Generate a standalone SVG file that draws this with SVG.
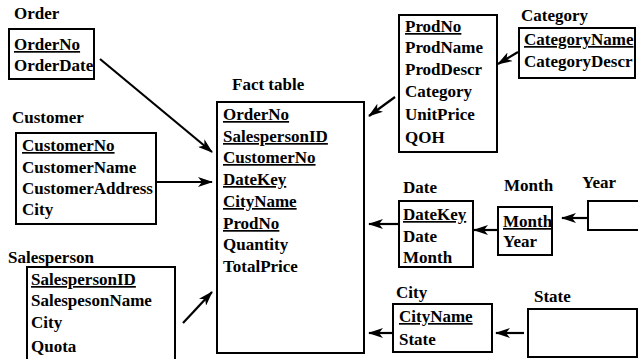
<svg xmlns="http://www.w3.org/2000/svg" width="638" height="359" viewBox="0 0 638 359">
<defs>
<style>
text{font-family:"Liberation Serif","Times New Roman",serif;font-size:17px;font-weight:bold;fill:#000}
.k{text-decoration:underline}
.b{fill:#fff;stroke:#000;stroke-width:2}
.c line{stroke:#000;stroke-width:2.2}
</style>
<marker id="ah" viewBox="0 0 15 10" refX="14" refY="5" markerWidth="15" markerHeight="10" markerUnits="userSpaceOnUse" orient="auto">
<path d="M0,0 L15,5 L0,10 L4,5 Z" fill="#000"/>
</marker>
</defs>
<rect width="638" height="359" fill="#fff"/>
<g id="order">
<text x="14" y="19">Order</text>
<rect class="b" x="9" y="29" width="85" height="50"/>
<text class="k" x="14" y="50">OrderNo</text>
<text x="14" y="71">OrderDate</text>
</g>
<g id="customer">
<text x="12" y="123">Customer</text>
<rect class="b" x="16" y="133" width="140" height="91"/>
<text class="k" x="22" y="151">CustomerNo</text>
<text x="22" y="173">CustomerName</text>
<text x="22" y="194">CustomerAddress</text>
<text x="22" y="215">City</text>
</g>
<g id="salesperson">
<text x="8" y="263">Salesperson</text>
<rect class="b" x="27" y="267" width="148" height="100"/>
<text class="k" x="31" y="285">SalespersonID</text>
<text x="31" y="306">SalespesonName</text>
<text x="31" y="328">City</text>
<text x="31" y="352">Quota</text>
</g>
<g id="fact">
<text x="232" y="90">Fact table</text>
<rect class="b" x="217" y="102" width="147" height="251"/>
<text class="k" x="223" y="120">OrderNo</text>
<text class="k" x="223" y="142">SalespersonID</text>
<text class="k" x="223" y="163">CustomerNo</text>
<text class="k" x="223" y="185">DateKey</text>
<text class="k" x="223" y="207">CityName</text>
<text class="k" x="223" y="229">ProdNo</text>
<text x="223" y="250">Quantity</text>
<text x="223" y="272">TotalPrice</text>
</g>
<g id="product">
<rect class="b" x="399" y="15" width="98" height="137"/>
<text class="k" x="405" y="32">ProdNo</text>
<text x="405" y="53">ProdName</text>
<text x="405" y="75">ProdDescr</text>
<text x="405" y="97">Category</text>
<text x="405" y="120">UnitPrice</text>
<text x="405" y="143">QOH</text>
</g>
<g id="category">
<text x="521" y="21">Category</text>
<rect class="b" x="519" y="28" width="116" height="50"/>
<text class="k" x="524" y="45">CategoryName</text>
<text x="524" y="67">CategoryDescr</text>
</g>
<g id="date">
<text x="403" y="193">Date</text>
<rect class="b" x="399" y="201" width="74" height="66"/>
<text class="k" x="403" y="220">DateKey</text>
<text x="403" y="242">Date</text>
<text x="403" y="263">Month</text>
</g>
<g id="month">
<text x="504" y="191">Month</text>
<rect class="b" x="498" y="207" width="54" height="48"/>
<text class="k" x="503" y="227">Month</text>
<text x="503" y="247">Year</text>
</g>
<g id="year">
<text x="582" y="188">Year</text>
<rect class="b" x="588" y="201" width="52" height="29"/>
</g>
<g id="city">
<text x="396" y="298">City</text>
<rect class="b" x="393" y="304" width="99" height="48"/>
<text class="k" x="399" y="322">CityName</text>
<text x="399" y="345">State</text>
</g>
<g id="state">
<text x="534" y="302">State</text>
<rect class="b" x="528" y="309" width="109" height="48"/>
</g>
<g id="connectors" class="c">
<line x1="100" y1="59" x2="212" y2="152" marker-end="url(#ah)"/>
<line x1="156" y1="182" x2="212" y2="182" marker-end="url(#ah)"/>
<line x1="183" y1="323" x2="212" y2="292" marker-end="url(#ah)"/>
<line x1="395" y1="97" x2="369" y2="116" marker-end="url(#ah)"/>
<line x1="518" y1="52" x2="498" y2="64" marker-end="url(#ah)"/>
<line x1="398" y1="224" x2="369" y2="224" marker-end="url(#ah)"/>
<line x1="498" y1="230" x2="474" y2="230" marker-end="url(#ah)"/>
<line x1="588" y1="218" x2="562" y2="218" marker-end="url(#ah)"/>
<line x1="393" y1="333" x2="369" y2="333" marker-end="url(#ah)"/>
<line x1="524" y1="333" x2="496" y2="333" marker-end="url(#ah)"/>
</g>
</svg>
